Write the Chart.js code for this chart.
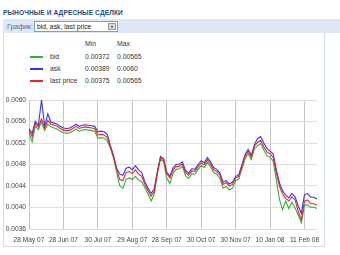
<!DOCTYPE html>
<html>
<head>
<meta charset="utf-8">
<script src="https://cdn.jsdelivr.net/npm/chart.js"></script>
<style>
  body { margin: 0; background: #fff; font-family: "Liberation Sans", Arial, sans-serif; }
  .abs { position: absolute; white-space: nowrap; }
  #title { left: 3px; top: 9px; font-size: 6.6px; font-weight: bold; color: #1d4c80; letter-spacing: 0.1px; }
  #bar { left: 3px; top: 19px; width: 337px; height: 14px; background: #dde8f4; }
  #lbl { left: 7px; top: 23px; font-size: 7px; color: #3c6ea6; }
  #sel { left: 34px; top: 21px; width: 82px; height: 9px; border: 1px solid #7f9db9; background: #fff; font-size: 6.8px; color: #222; line-height: 9px; }
  #sel span { padding-left: 2px; }
  #arr { position: absolute; right: 1px; top: 1px; width: 8px; height: 7px; background: #d8d8d8; border: 1px solid #999; box-sizing: border-box; }
  #arr:after { content: ""; position: absolute; left: 2px; top: 2px; border-left: 1.5px solid transparent; border-right: 1.5px solid transparent; border-top: 2px solid #222; }
  #panel { left: 3px; top: 33px; width: 322px; height: 214px; border: 1px solid #cfdcea; border-top: none; box-sizing: border-box; }
  .lg { font-size: 6.8px; color: #333; }
  .sw { position: absolute; width: 13px; height: 2px; }
  #chartBox { position: absolute; left: 0; top: 90px; width: 330px; height: 160px; }
</style>
</head>
<body>
<div class="abs" id="title">РЫНОЧНЫЕ И АДРЕСНЫЕ СДЕЛКИ</div>
<div class="abs" id="bar"></div>
<div class="abs" id="lbl">График:</div>
<div class="abs" id="sel"><span>bid, ask, last price</span><div id="arr"></div></div>
<div class="abs" id="panel"></div>
<div id="legend"></div>
<div id="chartBox"><canvas id="myChart"></canvas></div>
<script>
var seriesNames = ["bid", "ask", "last price"];
var seriesColors = ["#33b033", "#3333ff", "#ee2222"];
var minValues = ["0.00372", "0.00389", "0.00375"];
var maxValues = ["0.00565", "0.0060", "0.00565"];

var tickLabels = ["28 May 07", "28 Jun 07", "30 Jul 07", "29 Aug 07", "28 Sep 07",
  "30 Oct 07", "30 Nov 07", "10 Jan 08", "11 Feb 08"];
var tickStep = 11;

var lastPrice = [
  0.00544, 0.00532, 0.00557, 0.00550, 0.00565, 0.00548, 0.00562, 0.00555, 0.00553, 0.00551,
  0.00547, 0.00544, 0.00543, 0.00544, 0.00547, 0.00551, 0.00547, 0.00549, 0.00550, 0.00549,
  0.00548, 0.00547, 0.00535, 0.00536, 0.00535, 0.00530, 0.00513, 0.00495, 0.00471, 0.00452,
  0.00450, 0.00465, 0.00467, 0.00463, 0.00470, 0.00462, 0.00458, 0.00443, 0.00431, 0.00421,
  0.00430, 0.00465, 0.00493, 0.00489, 0.00463, 0.00455, 0.00470, 0.00476, 0.00477, 0.00481,
  0.00465, 0.00460, 0.00468, 0.00467, 0.00476, 0.00483, 0.00479, 0.00489, 0.00481, 0.00470,
  0.00467, 0.00460, 0.00443, 0.00446, 0.00440, 0.00443, 0.00455, 0.00458, 0.00476, 0.00495,
  0.00505, 0.00494, 0.00514, 0.00521, 0.00525, 0.00513, 0.00503, 0.00500, 0.00493, 0.00465,
  0.00440, 0.00425, 0.00417, 0.00412, 0.00420, 0.00414, 0.00393, 0.00377, 0.00412, 0.00414,
  0.00407, 0.00407, 0.00404
];

var ask = [
  0.00547, 0.00538, 0.00560, 0.00553, 0.00600, 0.00552, 0.00574, 0.00559, 0.00557, 0.00555,
  0.00551, 0.00548, 0.00547, 0.00548, 0.00551, 0.00555, 0.00551, 0.00553, 0.00554, 0.00553,
  0.00552, 0.00551, 0.00541, 0.00542, 0.00541, 0.00536, 0.00515, 0.00497, 0.00473, 0.00462,
  0.00460, 0.00473, 0.00475, 0.00470, 0.00478, 0.00470, 0.00465, 0.00448, 0.00436, 0.00426,
  0.00435, 0.00467, 0.00495, 0.00491, 0.00466, 0.00458, 0.00474, 0.00480, 0.00481, 0.00485,
  0.00469, 0.00464, 0.00472, 0.00471, 0.00480, 0.00487, 0.00483, 0.00493, 0.00485, 0.00474,
  0.00471, 0.00464, 0.00447, 0.00450, 0.00444, 0.00447, 0.00458, 0.00461, 0.00479, 0.00498,
  0.00508, 0.00497, 0.00517, 0.00528, 0.00532, 0.00520, 0.00510, 0.00505, 0.00500, 0.00471,
  0.00446, 0.00431, 0.00423, 0.00418, 0.00426, 0.00420, 0.00403, 0.00389, 0.00424, 0.00426,
  0.00419, 0.00419, 0.00416
];

var bid = [
  0.00539, 0.00522, 0.00552, 0.00545, 0.00560, 0.00543, 0.00555, 0.00550, 0.00548, 0.00546,
  0.00542, 0.00539, 0.00538, 0.00539, 0.00542, 0.00546, 0.00542, 0.00544, 0.00545, 0.00544,
  0.00543, 0.00542, 0.00529, 0.00530, 0.00529, 0.00524, 0.00510, 0.00492, 0.00466, 0.00440,
  0.00436, 0.00452, 0.00455, 0.00452, 0.00458, 0.00451, 0.00448, 0.00437, 0.00425, 0.00412,
  0.00424, 0.00462, 0.00490, 0.00486, 0.00455, 0.00445, 0.00464, 0.00471, 0.00472, 0.00476,
  0.00459, 0.00454, 0.00463, 0.00462, 0.00471, 0.00478, 0.00474, 0.00484, 0.00476, 0.00465,
  0.00462, 0.00454, 0.00436, 0.00439, 0.00433, 0.00436, 0.00450, 0.00453, 0.00471, 0.00490,
  0.00500, 0.00489, 0.00509, 0.00515, 0.00519, 0.00507, 0.00496, 0.00494, 0.00486, 0.00452,
  0.00415, 0.00396, 0.00412, 0.00398, 0.00410, 0.00399, 0.00386, 0.00372, 0.00404, 0.00405,
  0.00400, 0.00401, 0.00398
];

// legend table (html)
var lg = document.getElementById("legend");
var rowsY = [53, 65, 77];
function put(text, x, y) {
  var d = document.createElement("div");
  d.className = "abs lg";
  d.style.left = x + "px";
  d.style.top = y + "px";
  d.textContent = text;
  lg.appendChild(d);
}
put("Min", 85, 40);
put("Max", 117, 40);
for (var i = 0; i < seriesNames.length; i++) {
  var s = document.createElement("div");
  s.className = "sw";
  s.style.left = "30px";
  s.style.top = (rowsY[i] + 3) + "px";
  s.style.backgroundColor = seriesColors[i];
  lg.appendChild(s);
  put(seriesNames[i], 50, rowsY[i]);
  put(minValues[i], 85, rowsY[i]);
  put(maxValues[i], 117, rowsY[i]);
}

var idx = lastPrice.map(function (v, i) { return i; });
var tickFont = { family: "Liberation Sans", size: 6.6 };

new Chart(document.getElementById("myChart"), {
  type: "line",
  data: {
    labels: idx,
    datasets: [
      { label: seriesNames[2], data: lastPrice, borderColor: seriesColors[2] },
      { label: seriesNames[1], data: ask, borderColor: seriesColors[1] },
      { label: seriesNames[0], data: bid, borderColor: seriesColors[0] }
    ]
  },
  options: {
    responsive: true,
    maintainAspectRatio: false,
    animation: false,
    events: [],
    elements: {
      line: { borderWidth: 1.1, tension: 0 },
      point: { radius: 0 }
    },
    layout: { padding: { top: 10, right: 13, bottom: 2, left: 0 } },
    plugins: { legend: { display: false }, tooltip: { enabled: false } },
    scales: {
      x: {
        type: "linear",
        min: 0,
        max: idx.length - 1,
        grid: { color: "#c4c4c4", drawTicks: false },
        border: { display: false },
        ticks: {
          stepSize: tickStep,
          includeBounds: false,
          maxRotation: 0,
          autoSkip: false,
          padding: 7,
          color: "#444",
          font: tickFont,
          callback: function (v) { return tickLabels[Math.round(v / tickStep)] || ""; }
        },
        afterFit: function (s) { s.height = 19; }
      },
      y: {
        min: 0.0036,
        max: 0.0060,
        grid: { color: "#dddddd", drawTicks: false },
        border: { display: false },
        ticks: {
          stepSize: 0.0002,
          padding: 3,
          color: "#444",
          font: tickFont,
          callback: function (v) { return v.toFixed(4); }
        },
        afterFit: function (s) { s.width = 29; }
      }
    }
  }
});
</script>
</body>
</html>
